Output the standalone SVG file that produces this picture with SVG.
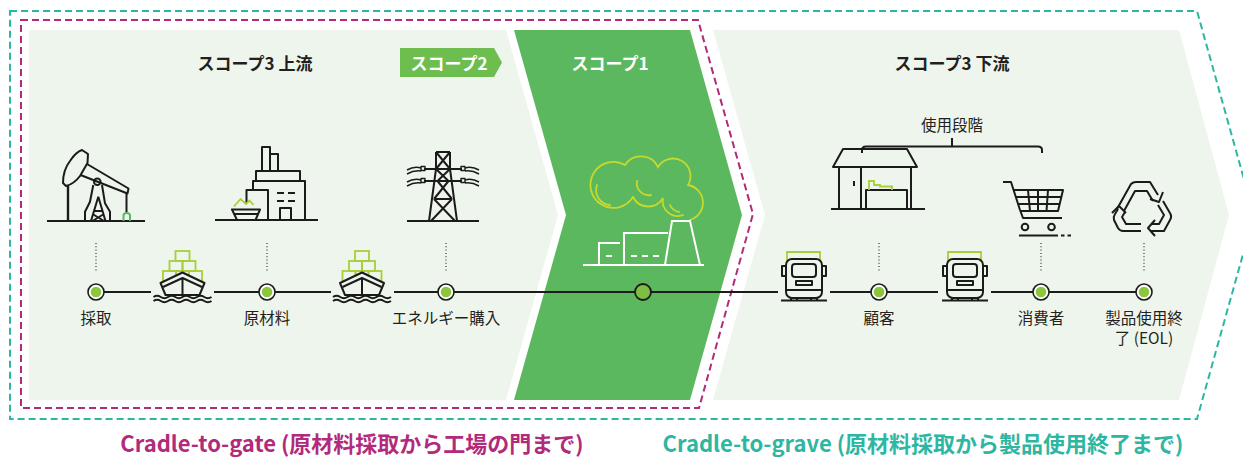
<svg xmlns="http://www.w3.org/2000/svg" width="1243" height="457" viewBox="0 0 1243 457">
<style>
text{font-family:"Noto Sans CJK JP","Noto Sans",sans-serif;fill:#231f20}
.hd{font-size:17px;font-weight:700;text-anchor:middle}
.lbl{font-size:15.5px;text-anchor:middle}
.cap{font-size:22px;font-weight:700;text-anchor:middle}
.ic{fill:none;stroke:#1b1b1b;stroke-width:2;stroke-linejoin:round}
.icw{fill:none;stroke:#fff;stroke-width:2}
.lime{fill:none;stroke:#a8cf3a;stroke-width:1.8}
.cloud{fill:none;stroke:#c6d92c;stroke-width:1.8;stroke-linecap:round}
.dot{stroke:#333;stroke-width:1.2;stroke-dasharray:1 2.3}
.link{stroke:#1b1b1b;stroke-width:1.8;fill:none}
.nd{fill:#fff;stroke:#1b1b1b;stroke-width:1.6}
.ndin{fill:#8cc63f}
</style>
<defs>
  <!-- delivery truck, centred on x=0 -->
  <g id="truck">
    <path d="M-17,262 V252 H16 V262" class="lime"/>
    <rect x="-18" y="259" width="36" height="39" rx="6" fill="#eef5ec" stroke="#1b1b1b" stroke-width="2"/>
    <path d="M-18,266 h-4 v10 h4 M18,266 h4 v10 h-4" class="ic"/>
    <rect x="-12" y="264" width="24" height="13" rx="3" class="ic"/>
    <rect x="-8" y="281" width="16" height="4" class="ic" stroke-width="1.6"/>
    <path d="M-18,290 H18 M-13,297 v3 M-7,297 v3 M7,297 v3 M13,297 v3" class="ic"/>
    <path d="M-23,300.5 H23" class="ic" stroke-width="3"/>
  </g>
  <!-- container ship, centred on x=0 -->
  <g id="ship">
    <g class="lime">
      <rect x="-7" y="251" width="14" height="10"/>
      <rect x="-13" y="261" width="13" height="10"/>
      <rect x="0" y="261" width="13" height="10"/>
      <rect x="-19.5" y="271" width="13" height="10"/>
      <rect x="-6.5" y="271" width="13" height="10"/>
      <rect x="6.5" y="271" width="13" height="10"/>
    </g>
    <path d="M-22,283 L0,272.5 L22,283 L17,295 H-17 Z" fill="#eef5ec" stroke="#1b1b1b" stroke-width="2" stroke-linejoin="round"/>
    <path d="M-19.5,287 L0,278 L19.5,287 M0,278 V294" class="ic"/>
    <path d="M-29,297 q3.6,-2.4 7.25,0 t7.25,0 t7.25,0 t7.25,0 t7.25,0 t7.25,0 t7.25,0 t7.25,0 M-29,301 q3.6,-2.4 7.25,0 t7.25,0 t7.25,0 t7.25,0 t7.25,0 t7.25,0 t7.25,0 t7.25,0" class="ic" stroke-width="1.6"/>
  </g>
</defs>

<rect width="1243" height="457" fill="#fff"/>

<!-- scope bands -->
<g id="bands">
  <polygon points="29,30 506,30 558,215 506,400 29,400" fill="#eef5ec"/>
  <polygon points="713,30 1179,30 1229,215 1179,400 713,400 765,215" fill="#eef5ec"/>
  <polygon points="514,30 690,30 742,215 690,400 514,400 566,215" fill="#5cb85f"/>
  <polygon points="400,48 494,48 502,62.5 494,77 400,77" fill="#6dbd4f"/>
  <text class="hd" x="255" y="70">スコープ3 上流</text>
  <text class="hd" x="449" y="70" style="fill:#fff">スコープ2</text>
  <text class="hd" x="610" y="70" style="fill:#fff">スコープ1</text>
  <text class="hd" x="952" y="70">スコープ3 下流</text>
</g>

<!-- system boundaries -->
<g id="boundaries" fill="none" stroke-width="2" stroke-dasharray="7 4">
  <polygon points="21,20 698,20 753,214 699,408 21,408" stroke="#b22a7c"/>
  <polygon points="10,11 1197,11 1254,215 1197,419 10,419" stroke="#2db6a1"/>
</g>

<!-- use phase bracket -->
<g id="use-phase">
  <text class="lbl" x="952" y="131">使用段階</text>
  <path d="M862,153 V150 Q862,146.5 866,146.5 H1038 Q1042,146.5 1042,150 V153 M952,146.5 V138" class="ic" stroke-width="1.6"/>
</g>

<!-- value chain line and leader dots -->
<g id="connectors">
  <path class="link" d="M96,292 H151 M214,292 H331 M394,292 H778 M830,292 H938 M991,292 H1144"/>
  <path class="dot" d="M96,243 V271 M267,243 V271 M446,243 V271 M879,243 V271 M1041,243 V271 M1144,243 V271"/>
</g>

<!-- transport legs -->
<g id="transport">
  <use href="#ship" x="182.5"/>
  <use href="#ship" x="362"/>
  <use href="#truck" x="804"/>
  <use href="#truck" x="965"/>
</g>

<!-- extraction -->
<g id="n-extraction">
  <g class="ic">
    <path d="M47,221 H145"/>
    <path d="M63,183 Q63,170 70,161 Q76,152 82,150 L88,154 L87.5,163 L80,176 Q74,184 66,186 Z"/>
    <path d="M87,164 L128.5,188.5 L127.5,193.5 L80.5,175"/>
    <circle cx="97.3" cy="181.7" r="3.3"/>
    <path d="M68,186 V221" stroke-width="2.4"/>
    <path d="M126.5,193 V213"/>
    <path d="M93.3,185 L90,201.7 L85,211.7 V221 M102,185 L105,203.3 L110,211.7 V221"/>
    <path d="M98.3,196.7 L91,221 M98.3,196.7 L105.5,221 M93.5,211 L103.3,211 M92.5,214 L104,221 M104,214 L92.5,221"/>
  </g>
  <path d="M123.5,221 V215.5 Q123.5,213 126.7,213 Q130,213 130,215.5 V221" fill="none" stroke="#5cb85f" stroke-width="2"/>
  <circle class="nd" cx="96" cy="292" r="8"/>
  <circle class="ndin" cx="96" cy="292" r="5.3"/>
  <text class="lbl" x="96" y="324">採取</text>
</g>

<!-- raw material -->
<g id="n-material">
  <g class="ic">
    <path d="M215,220 H318"/>
    <rect x="262" y="147" width="8" height="24"/>
    <path d="M270,154 H278 V171"/>
    <path d="M256,181 V171 H300 V181"/>
    <path d="M253,190 V181 H305 V220"/>
    <path d="M246.5,203 V190 H268 V220"/>
    <path d="M277,193 H284 M288,193 H295 M277,201 H284 M288,201 H295"/>
    <path d="M280,220 V208 H291 V220"/>
    <path d="M232,209.5 H260 L255.5,220 H237 Z M233.5,214 H258.5"/>
  </g>
  <path d="M234,206.5 L240.5,199 L246,204 L249.5,200.5 L253.5,205" class="lime" stroke-width="2"/>
  <circle class="nd" cx="267" cy="292" r="8"/>
  <circle class="ndin" cx="267" cy="292" r="5.3"/>
  <text class="lbl" x="267" y="324">原材料</text>
</g>

<!-- purchased energy -->
<g id="n-energy">
  <g class="ic" stroke-width="1.8">
    <path d="M407,221 H479" stroke-width="2.2"/>
    <path d="M436,152 H450 M436,152 V169 L429,221 M450,152 V169 L457,221"/>
    <path d="M436,152 L450,169 M450,152 L436,169 M436,169 L448.5,181 M450,169 L437.5,181"/>
    <path d="M437.5,181 L452,199 M448.5,181 L434,199 M434,199 L455,221 M452,199 L431,221 M434,199 H452"/>
    <path d="M424,169 H462 M424,181 H462"/>
    <rect x="421" y="166.5" width="4" height="4" stroke-width="1.4"/>
    <rect x="461" y="166.5" width="4" height="4" stroke-width="1.4"/>
    <rect x="421" y="178.5" width="4" height="4" stroke-width="1.4"/>
    <rect x="461" y="178.5" width="4" height="4" stroke-width="1.4"/>
    <path d="M407,170 Q414,166 421,168 M407,174 Q414,170 421,171" stroke-width="1.5"/>
    <path d="M407,182 Q414,178 421,180 M407,186 Q414,182 421,183" stroke-width="1.5"/>
    <path d="M479,170 Q472,166 465,168 M479,174 Q472,170 465,171" stroke-width="1.5"/>
    <path d="M479,182 Q472,178 465,180 M479,186 Q472,182 465,183" stroke-width="1.5"/>
  </g>
  <circle class="nd" cx="446" cy="292" r="8"/>
  <circle class="ndin" cx="446" cy="292" r="5.3"/>
  <text class="lbl" x="446" y="324">エネルギー購入</text>
</g>

<!-- own operations -->
<g id="n-operations">
  <g class="cloud">
    <path d="M633,197 A23,23 0 1 1 625,165 A19,19 0 0 1 658,167 A16,16 0 0 1 688,185 A18,18 0 0 1 690,220"/>
    <path d="M633,197 A17,17 0 0 0 663,198 A15,15 0 0 0 683,215"/>
    <path d="M597,185 A15,15 0 0 0 610,205 M637,181 A12,12 0 0 0 651,195 M670,205 A12,12 0 0 0 679,212"/>
  </g>
  <g class="icw">
    <path d="M583,265 H704"/>
    <path d="M599,265 V243 H620"/>
    <path d="M624,265 V233 H668"/>
    <path d="M665,265 L672,221 H690 L700,265"/>
    <path d="M606,256 H612 M631,256 H637 M642,256 H648 M653,256 H659"/>
  </g>
  <circle cx="643" cy="292" r="8" fill="#7cbf42" stroke="#1b1b1b" stroke-width="1.8"/>
</g>

<!-- customer -->
<g id="n-customer">
  <g class="ic">
    <path d="M833,167 L843,149 H907 L917,167 Z"/>
    <path d="M839,167 V209 M911,167 V209 M861,167 V209"/>
    <path d="M831,209 H925"/>
    <path d="M854,181 V186"/>
    <path d="M866,209 V190 H907 V209"/>
  </g>
  <path d="M869,190 V181 H874 V185 H880 V186.5 H892 V190" class="lime" stroke-width="1.8"/>
  <circle class="nd" cx="879" cy="292" r="8"/>
  <circle class="ndin" cx="879" cy="292" r="5.3"/>
  <text class="lbl" x="879" y="324">顧客</text>
</g>

<!-- consumer -->
<g id="n-consumer">
  <g class="ic">
    <path d="M1003,182 H1011 L1020,210"/>
    <path d="M1013,190 H1063 L1058,211 H1020"/>
    <path d="M1015.5,197 H1061.5 M1018,204 H1060"/>
    <path d="M1028,190 L1030,211 M1038,190 V211 M1048,190 L1046.5,211"/>
    <path d="M1020,210 L1023,218 H1062"/>
    <circle cx="1025" cy="227" r="3.3"/>
    <circle cx="1051.5" cy="227" r="3.3"/>
    <path d="M1019,235.5 H1058 M1061,235.5 H1064.5 M1067.5,235.5 H1071"/>
  </g>
  <circle class="nd" cx="1041" cy="292" r="8"/>
  <circle class="ndin" cx="1041" cy="292" r="5.3"/>
  <text class="lbl" x="1041" y="324">消費者</text>
</g>

<!-- end of life -->
<g id="n-eol">
  <g class="ic" stroke-width="1.8">
    <path d="M1117,209 L1131,184 Q1133,182 1136,182 H1150 L1158,195"/>
    <path d="M1124,211 L1135,191 H1147 L1153,201"/>
    <path d="M1150,199 L1159,202 L1163,192"/>
    <path d="M1163,201 L1170.5,214 Q1172,217 1170,220 L1164,231 H1151"/>
    <path d="M1158,205 L1164,215 L1159,224 H1151"/>
    <path d="M1155,220 L1148,228 L1155,236"/>
    <path d="M1141,231 H1123 Q1120,231 1118,228 L1114,220 Q1113,217 1115,214 L1118,209"/>
    <path d="M1141,224 H1126 L1122,217 L1125,212"/>
    <path d="M1112,213 L1119,206 L1126,213"/>
  </g>
  <circle class="nd" cx="1144" cy="292" r="8"/>
  <circle class="ndin" cx="1144" cy="292" r="5.3"/>
  <text class="lbl" x="1144" y="324">製品使用終</text>
  <text class="lbl" x="1144" y="344">了 (EOL)</text>
</g>

<!-- boundary captions -->
<g id="captions">
  <text class="cap" x="352" y="452" style="fill:#b22a7c">Cradle-to-gate (原材料採取から工場の門まで)</text>
  <text class="cap" x="923" y="452" style="fill:#2db6a1">Cradle-to-grave (原材料採取から製品使用終了まで)</text>
</g>
</svg>
